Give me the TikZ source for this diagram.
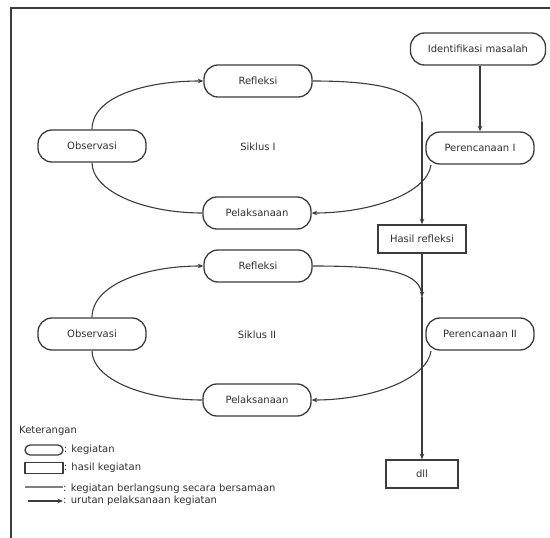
\documentclass[tikz,border=0pt]{standalone}
\usepackage{fontspec}
\setmainfont{DejaVu Sans}
\usetikzlibrary{arrows.meta}
\definecolor{ln}{HTML}{3C3C3C}
\definecolor{txt}{HTML}{303030}
\tikzset{
  act/.style={draw=ln, line width=1.3pt, rounded corners=14pt, minimum width=108pt,
    minimum height=32pt, inner sep=0pt, text=txt, font=\fontsize{10}{12}\selectfont},
  resbox/.style={draw=ln, line width=1.5pt, minimum height=28pt, inner sep=0pt,
    text=txt, font=\fontsize{10}{12}\selectfont},
  lbl/.style={text=txt, font=\fontsize{10}{12}\selectfont, inner sep=0pt},
  con/.style={draw=ln, line width=1.1pt},
  arr/.style={con, -{Stealth[length=5.5pt,width=4.5pt]}},
}
\begin{document}
\begin{tikzpicture}[x=1pt,y=-1pt]
\useasboundingbox (0,0) rectangle (550,538);
\fill[white] (0,0) rectangle (550,538);
% frame
\coordinate (fbl) at (11,538);
\coordinate (ftl) at (11,8);
\coordinate (ftr) at (550,8);
\draw[ln, line width=1.6pt] (fbl) -- (ftl) -- (ftr);

% right column
\node[act, minimum width=135pt] (ident) at (478,49) {Identifikasi masalah};
\node[act] (per1) at (480,148) {Perencanaan I};
\node[resbox, minimum width=88pt] (hasil) at (422,239) {Hasil refleksi};
\node[act] (per2) at (480,334) {Perencanaan II};
\node[resbox, minimum width=72pt] (dll) at (422,474) {dll};

% cycle I
\node[act] (ref1) at (258,81) {Refleksi};
\node[act] (obs1) at (92,146) {Observasi};
\node[act] (pel1) at (257,213) {Pelaksanaan};
\node[lbl] (sik1) at (258,147) {Siklus I};

% cycle II
\node[act] (ref2) at (258,266) {Refleksi};
\node[act] (obs2) at (92,334) {Observasi};
\node[act] (pel2) at (257,400) {Pelaksanaan};
\node[lbl] (sik2) at (257,335) {Siklus II};

% merge points on the vertical line
\coordinate (m1) at (422,122);
\coordinate (m2) at (422,297);
\coordinate (p1s) at (431,165);
\coordinate (p2s) at (431,351);

% connectors
\draw[arr] (ident.south -| per1.north) -- (per1.north);

\draw[arr] (obs1.north) .. controls +(0,-32) and +(-60,0) .. (ref1.west);
\draw[con] (ref1.east) .. controls +(75,0) and +(0,-30) .. (m1);
\draw[arr] (m1) -- (hasil.north);
\draw[arr] (p1s) .. controls +(-4,28) and +(60,0) .. (pel1.east);
\draw[con] (pel1.west) .. controls +(-60,0) and +(0,28) .. (obs1.south);

\draw[arr] (hasil.south) -- (m2);
\draw[arr] (obs2.north) .. controls +(0,-32) and +(-60,0) .. (ref2.west);
\draw[con] (ref2.east) .. controls +(75,0) and +(0,-25) .. (m2);
\draw[arr] (m2) -- (dll.north);
\draw[arr] (p2s) .. controls +(-4,28) and +(60,0) .. (pel2.east);
\draw[con] (pel2.west) .. controls +(-60,0) and +(0,28) .. (obs2.south);

% legend
\node[lbl, anchor=west] (ket) at (19,431) {Keterangan};
\node[draw=ln, line width=1.3pt, rounded corners=5pt, minimum width=38pt, minimum height=10pt, inner sep=0pt] (lg1) at (44,450) {};
\node[lbl, anchor=west] (lt1) at (lg1.east) {: kegiatan};
\node[draw=ln, line width=1.3pt, minimum width=38pt, minimum height=11pt, inner sep=0pt] (lg2) at (44,468) {};
\node[lbl, anchor=west] (lt2) at (lg2.east) {: hasil kegiatan};
\coordinate (lg3a) at (25,487);
\coordinate (lg3b) at (63,487);
\draw[con, draw=gray] (lg3a) -- (lg3b);
\node[lbl, anchor=west] (lt3) at (63,489) {: kegiatan berlangsung secara bersamaan};
\coordinate (lg4a) at (28,501);
\coordinate (lg4b) at (63,501);
\draw[arr] (lg4a) -- (lg4b);
\node[lbl, anchor=west] (lt4) at (lg4b) {: urutan pelaksanaan kegiatan};
\end{tikzpicture}
\end{document}
